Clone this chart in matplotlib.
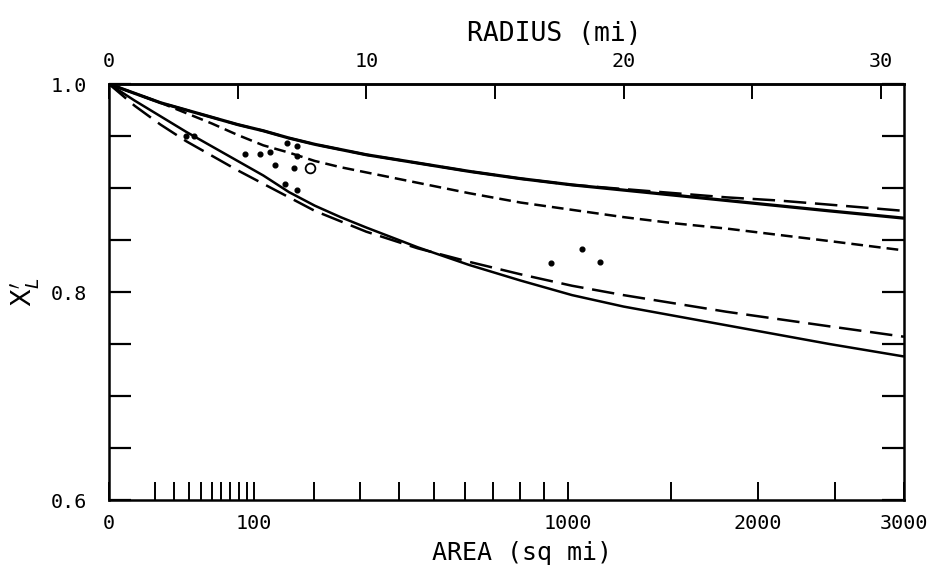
import numpy as np
import matplotlib
matplotlib.use("Agg")
import matplotlib.pyplot as plt
from matplotlib.ticker import FixedLocator, FixedFormatter, NullFormatter

# ---------------- data (radius in miles, value X'_L) ----------------
radius = [0, 1, 2, 3, 4, 5, 6, 7, 8, 9, 10, 12, 14, 16, 18, 20, 22, 24, 26, 28, 30.9]
upper_solid = [1.000, 0.991, 0.982, 0.975, 0.968, 0.961, 0.955, 0.948, 0.942, 0.937, 0.932,
               0.924, 0.916, 0.909, 0.903, 0.898, 0.893, 0.888, 0.883, 0.878, 0.871]
upper_dashed = [1.000, 0.991, 0.982, 0.975, 0.968, 0.961, 0.955, 0.948, 0.942, 0.937, 0.932,
                0.924, 0.916, 0.909, 0.903, 0.899, 0.895, 0.891, 0.888, 0.884, 0.878]
middle_dashed = [1.000, 0.991, 0.982, 0.972, 0.962, 0.951, 0.941, 0.934, 0.926, 0.920, 0.915,
                 0.905, 0.895, 0.886, 0.879, 0.872, 0.866, 0.861, 0.855, 0.849, 0.840]
lower_solid = [1.000, 0.984, 0.969, 0.954, 0.940, 0.926, 0.912, 0.896, 0.883, 0.872, 0.862,
               0.843, 0.826, 0.811, 0.797, 0.786, 0.777, 0.768, 0.759, 0.750, 0.738]
lower_dashed = [1.000, 0.979, 0.961, 0.945, 0.931, 0.917, 0.904, 0.891, 0.878, 0.868, 0.858,
                0.842, 0.829, 0.817, 0.806, 0.797, 0.789, 0.781, 0.774, 0.767, 0.757]

dot_radius = [3.0, 3.3, 5.30, 5.88, 6.27, 6.47, 6.93, 7.31, 7.31, 7.18, 6.86, 7.31, 17.19, 18.39, 19.10]
dot_value = [0.950, 0.950, 0.933, 0.933, 0.935, 0.922, 0.943, 0.940, 0.931, 0.919, 0.904, 0.898,
             0.828, 0.841, 0.829]
circle_radius = [7.83]
circle_value = [0.919]

area_labels = [0, 100, 1000, 2000, 3000]
area_minor = [10, 20, 30, 40, 50, 60, 70, 80, 90, 200, 300, 400, 500, 600, 700, 800, 900,
              1500, 2500]
radius_major = [0, 10, 20, 30]
radius_minor = [5, 15, 25]
y_major = [0.6, 0.8, 1.0]
y_minor = [0.65, 0.7, 0.75, 0.85, 0.9, 0.95]

# ---------------- figure ----------------
plt.rcParams['font.family'] = ['DejaVu Sans Mono']
fig = plt.figure(figsize=(9.4, 5.85), dpi=100)
W, H = 940, 585
x0, x1, y0, y1 = 109, 904, 84, 500
ax = fig.add_axes([x0 / W, 1 - y1 / H, (x1 - x0) / W, (y1 - y0) / H])

r_max = np.sqrt(3000 / np.pi)
ax.set_xlim(0, r_max)
ax.set_ylim(0.6, 1.0)

lw = 1.8
ax.plot(radius, upper_solid, color='black', lw=lw + 0.5, solid_capstyle='butt')
ax.plot(radius, upper_dashed, color='black', lw=lw, dashes=(9, 3.5))
ax.plot(radius, middle_dashed, color='black', lw=lw, dashes=(4.7, 2.4))
ax.plot(radius, lower_solid, color='black', lw=lw, solid_capstyle='butt')
ax.plot(radius, lower_dashed, color='black', lw=lw, dashes=(9, 3.5))

ax.plot(dot_radius, dot_value, 'o', color='black', ms=3.4, ls='none')
ax.plot(circle_radius, circle_value, 'o', mfc='white', mec='black', mew=1.3, ms=7, ls='none')

def a2r(a):
    return np.sqrt(np.asarray(a, dtype=float) / np.pi)

ax.xaxis.set_major_locator(FixedLocator(a2r(area_labels)))
ax.xaxis.set_major_formatter(FixedFormatter([str(a) for a in area_labels]))
ax.xaxis.set_minor_locator(FixedLocator(a2r(area_minor)))
ax.xaxis.set_minor_formatter(NullFormatter())

ax.yaxis.set_major_locator(FixedLocator(y_major))
ax.yaxis.set_major_formatter(FixedFormatter(['0.6', '0.8', '1.0']))
ax.yaxis.set_minor_locator(FixedLocator(y_minor))

ax.tick_params(axis='x', which='both', direction='in', length=13, width=1.4,
               labelsize=14.5, pad=10, bottom=True, top=False)
ax.tick_params(axis='y', which='both', direction='in', length=16, width=1.6,
               labelsize=14.5, pad=16, left=True, right=True)

for s in ax.spines.values():
    s.set_linewidth(1.8)

sec = ax.secondary_xaxis('top')
sec.xaxis.set_major_locator(FixedLocator(radius_major))
sec.xaxis.set_minor_locator(FixedLocator(radius_minor))
sec.xaxis.set_minor_formatter(NullFormatter())
sec.tick_params(which='both', direction='in', length=11, width=1.4, labelsize=14.5, pad=9)
sec.spines['top'].set_linewidth(1.8)

sec.set_xlabel('RADIUS (mi)', fontsize=19, labelpad=8, x=0.56)
ax.set_xlabel('AREA (sq mi)', fontsize=18, labelpad=6, x=0.52)
ax.set_ylabel(r"$\mathrm{X}_L'$", fontsize=19, labelpad=6)

fig.savefig('out.png', dpi=100)
